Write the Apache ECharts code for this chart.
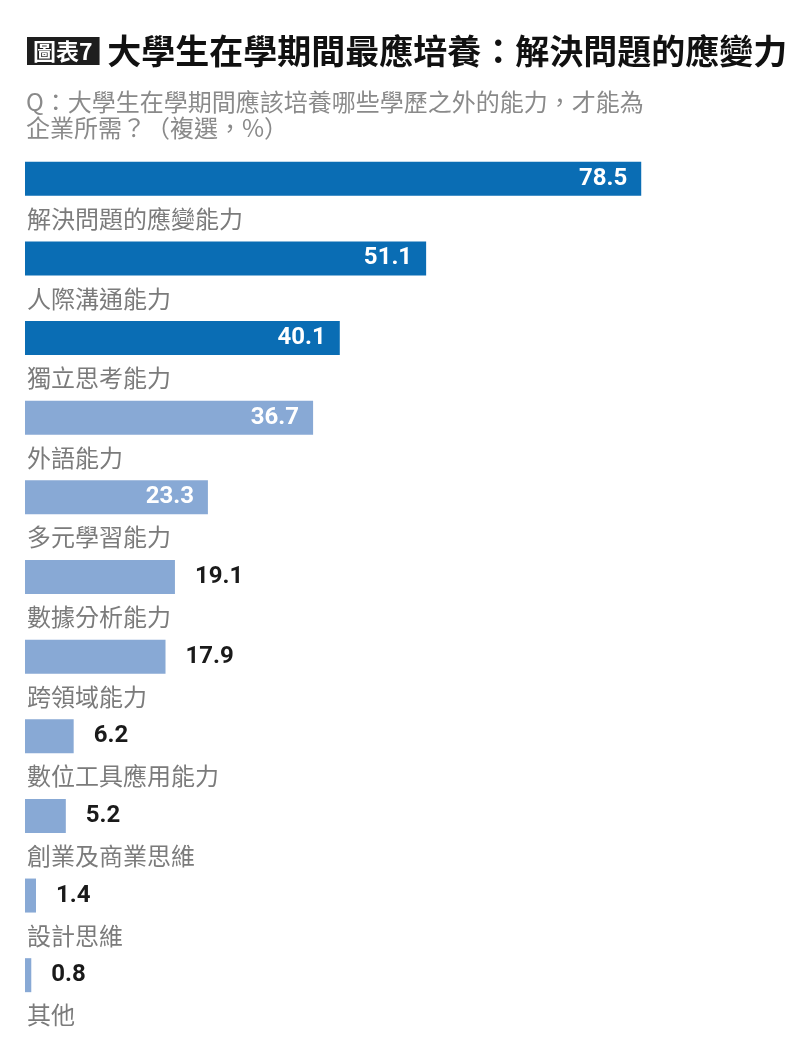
<!DOCTYPE html>
<html>
<head>
<meta charset="utf-8">
<script src="https://cdn.jsdelivr.net/npm/echarts@6/dist/echarts.min.js"></script>
<style>
  html, body { margin: 0; padding: 0; background: #fff; }
  #chart { width: 810px; height: 1051px; }
</style>
</head>
<body>
<div id="chart"></div>
<script>
// 類別與數值（%）
var categories = ['解決問題的應變能力', '人際溝通能力', '獨立思考能力', '外語能力', '多元學習能力',
  '數據分析能力', '跨領域能力', '數位工具應用能力', '創業及商業思維', '設計思維', '其他'];
var values = [78.5, 51.1, 40.1, 36.7, 23.3, 19.1, 17.9, 6.2, 5.2, 1.4, 0.8];

var chart = echarts.init(document.getElementById('chart'));

var numFont = 'Roboto, sans-serif';
var cjkFont = '"Noto Sans CJK TC", sans-serif';

var seriesData = values.map(function (v, i) {
  var inside = v >= 20;
  return {
    value: v,
    itemStyle: { color: i < 3 ? '#0a6db4' : '#88a9d5' },
    label: inside ? {
      position: 'insideRight', distance: 14, color: '#fff'
    } : {
      position: 'right', distance: 20, color: '#1a1a1a'
    }
  };
});

var option = {
  backgroundColor: '#fff',
  animation: false,
  title: [{
    text: '{box|圖表7}{t| 大學生在學期間最應培養：解決問題的應變力}',
    left: 27,
    top: 32,
    padding: 0,
    textStyle: {
      rich: {
        box: {
          backgroundColor: '#1e1e1e', color: '#fff', fontFamily: cjkFont,
          fontSize: 23, fontWeight: 'bold', padding: [3, 7, 2, 6], lineHeight: 28
        },
        t: {
          color: '#111', fontFamily: cjkFont, fontSize: 34, fontWeight: 'bold', lineHeight: 38
        }
      }
    }
  }, {
    text: 'Q：大學生在學期間應該培養哪些學歷之外的能力，才能為\n企業所需？（複選，%）',
    left: 26,
    top: 89,
    padding: 0,
    textStyle: {
      color: '#8a8a8a', fontFamily: cjkFont, fontSize: 24, fontWeight: 'normal', lineHeight: 26
    }
  }],
  grid: { left: 25, top: 139, width: 786, height: 876, containLabel: false },
  xAxis: {
    type: 'value', min: 0, max: 100,
    show: false
  },
  yAxis: {
    type: 'category',
    data: categories,
    inverse: true,
    axisLine: { show: false },
    axisTick: { show: false },
    axisLabel: {
      inside: true,
      margin: 2,
      align: 'left',
      verticalAlign: 'middle',
      formatter: function (name) {
        return '{gap|}\n{n|' + name + '}';
      },
      rich: {
        gap: { lineHeight: 80, fontSize: 10 },
        n: { lineHeight: 24, color: '#7b7b7b', fontFamily: cjkFont, fontSize: 24 }
      }
    }
  },
  series: [{
    type: 'bar',
    data: seriesData,
    barWidth: 34,
    label: {
      show: true,
      fontFamily: numFont,
      fontWeight: 'bold',
      fontSize: 24
    }
  }]
};

chart.setOption(option);
</script>
</body>
</html>
